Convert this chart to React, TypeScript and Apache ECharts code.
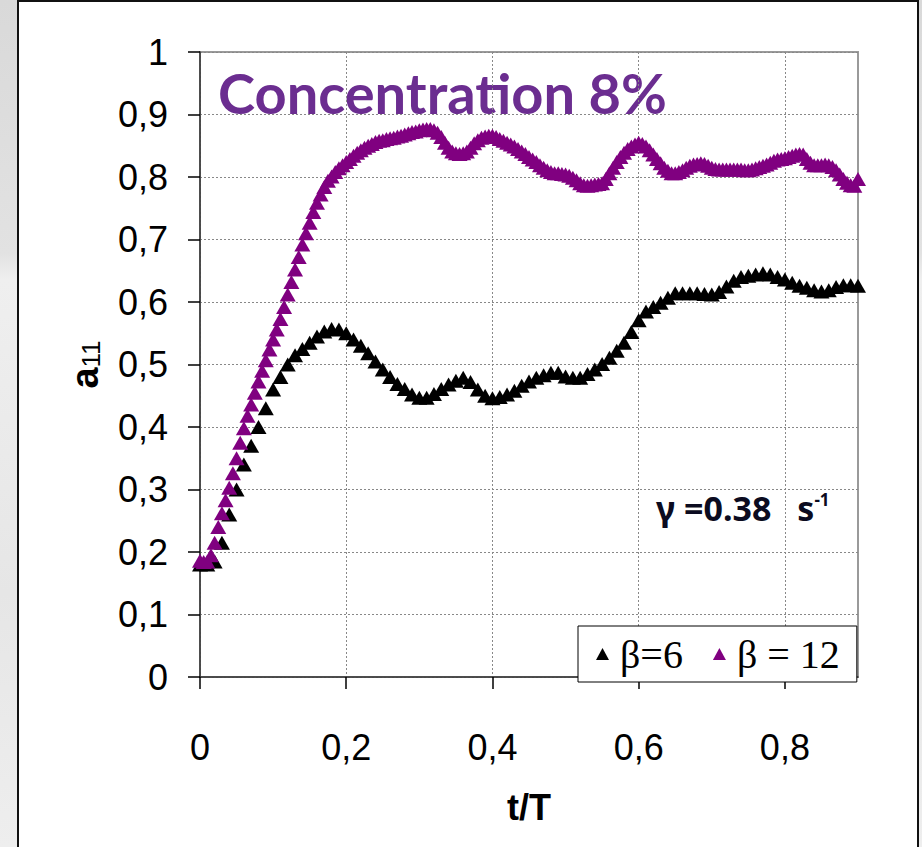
import React, { useEffect, useRef } from "react";
import * as echarts from "echarts";

// ---- data ----
const xTicks = [0, 0.2, 0.4, 0.6, 0.8];
const yTicks = [0, 0.1, 0.2, 0.3, 0.4, 0.5, 0.6, 0.7, 0.8, 0.9, 1];
const seriesNames = ["β=6", "β = 12"];

// β=6 sampled every 0.01 t/T
const beta6Step = 0.01;
const beta6 = [
  0.18, 0.18, 0.185, 0.215, 0.26, 0.3, 0.34, 0.37, 0.4, 0.43,
  0.46, 0.48, 0.5, 0.515, 0.525, 0.535, 0.545, 0.553, 0.557, 0.556,
  0.55, 0.54, 0.53, 0.518, 0.505, 0.492, 0.48, 0.469, 0.461, 0.452,
  0.447, 0.447, 0.453, 0.461, 0.468, 0.474, 0.479, 0.472, 0.46, 0.45,
  0.446, 0.448, 0.452, 0.458, 0.466, 0.473, 0.479, 0.483, 0.487, 0.487,
  0.481, 0.479, 0.479, 0.485, 0.492, 0.501, 0.511, 0.522, 0.535, 0.552,
  0.571, 0.585, 0.592, 0.599, 0.607, 0.614, 0.614, 0.614, 0.614, 0.613,
  0.612, 0.616, 0.625, 0.634, 0.64, 0.642, 0.644, 0.646, 0.644, 0.64,
  0.636, 0.631, 0.626, 0.623, 0.619, 0.617, 0.619, 0.624, 0.627, 0.627,
  0.626,
];

// β = 12 sampled every 0.005 t/T
const beta12Step = 0.005;
const beta12 = [
  0.186, 0.184, 0.185, 0.195, 0.215, 0.24, 0.262, 0.283, 0.303, 0.326,
  0.35, 0.375, 0.398, 0.418, 0.436, 0.455, 0.473, 0.49, 0.507, 0.524,
  0.54, 0.556, 0.573, 0.592, 0.612, 0.632, 0.652, 0.672, 0.692, 0.71,
  0.727, 0.744, 0.759, 0.772, 0.784, 0.794, 0.801, 0.808, 0.814, 0.819,
  0.824, 0.829, 0.834, 0.839, 0.843, 0.847, 0.85, 0.853, 0.856, 0.858,
  0.859, 0.861, 0.862, 0.863, 0.865, 0.866, 0.868, 0.87, 0.872, 0.873,
  0.875, 0.876, 0.877, 0.877, 0.875, 0.871, 0.864, 0.855, 0.847, 0.841,
  0.838, 0.837, 0.838, 0.841, 0.847, 0.854, 0.859, 0.863, 0.865, 0.866,
  0.866, 0.864, 0.861, 0.858, 0.855, 0.852, 0.849, 0.845, 0.841, 0.837,
  0.832, 0.828, 0.824, 0.819, 0.815, 0.811, 0.808, 0.806, 0.806, 0.805,
  0.804, 0.802, 0.799, 0.795, 0.79, 0.787, 0.786, 0.787, 0.788, 0.789,
  0.79, 0.797, 0.806, 0.815, 0.824, 0.832, 0.839, 0.845, 0.849, 0.852,
  0.855, 0.853, 0.849, 0.843, 0.836, 0.829, 0.822, 0.815, 0.81, 0.806,
  0.806, 0.808, 0.811, 0.815, 0.818, 0.82, 0.821, 0.822, 0.821, 0.818,
  0.815, 0.813, 0.812, 0.812, 0.812, 0.812, 0.812, 0.812, 0.812, 0.811,
  0.811, 0.812, 0.814, 0.816, 0.818, 0.82, 0.823, 0.826, 0.828, 0.829,
  0.83, 0.832, 0.834, 0.836, 0.837, 0.836, 0.829, 0.823, 0.819, 0.819,
  0.819, 0.82, 0.819, 0.816, 0.811, 0.804, 0.797, 0.791, 0.787, 0.786,
  0.797,
];

const titleText = "Concentration 8%";
const gammaText = "γ =0.38";
const gammaUnit = "s";
const gammaExp = "-1";
const xName = "t/T";
const yNameMain = "a";
const yNameSub = "11";

const fmt = (v: number) => {
  const r = Math.round(v * 10) / 10;
  if (r === 0) return "0";
  if (r === 1) return "1";
  return r.toFixed(1).replace(".", ",");
};

export default function App() {
  const ref = useRef<HTMLDivElement>(null);

  useEffect(() => {
    if (!ref.current) return;
    const chart = echarts.init(ref.current, null, { renderer: "svg" });
    const d6 = beta6.map((v, i) => [+(i * beta6Step).toFixed(3), v]);
    const d12 = beta12.map((v, i) => [+(i * beta12Step).toFixed(3), v]);

    chart.setOption({
      animation: false,
      grid: {
        left: 200,
        top: 52,
        width: 658,
        height: 625,
        show: true,
        borderColor: "#9a9a9a",
        borderWidth: 2,
        backgroundColor: "transparent",
      },
      xAxis: {
        type: "value",
        min: 0,
        max: 0.9,
        interval: 0.2,
        name: xName,
        nameLocation: "middle",
        nameGap: 112,
        nameTextStyle: {
          fontFamily: "Liberation Sans",
          fontWeight: "bold",
          fontSize: 36,
          color: "#000",
        },
        axisLine: { show: true, lineStyle: { color: "#333", width: 1.5 } },
        axisTick: {
          show: true,
          length: 12,
          customValues: xTicks,
          lineStyle: { color: "#000", width: 1.5 },
        },
        axisLabel: {
          customValues: xTicks,
          margin: 52,
          fontSize: 36,
          fontFamily: "Liberation Sans",
          color: "#000",
          formatter: (v: number) => fmt(v),
        },
        splitLine: {
          show: true,
          lineStyle: { color: "#888", type: [2, 2], width: 1 },
        },
      },
      yAxis: {
        type: "value",
        min: 0,
        max: 1,
        interval: 0.1,
        name: `{a|${yNameMain}}{s|${yNameSub}}`,
        nameLocation: "middle",
        nameGap: 96,
        nameTextStyle: {
          rich: {
            a: {
              fontFamily: "Liberation Sans",
              fontWeight: "bold",
              fontSize: 38,
              color: "#000",
            },
            s: {
              fontFamily: "Liberation Sans",
              fontSize: 26,
              color: "#000",
              verticalAlign: "bottom",
            },
          },
        },
        axisLine: { show: true, lineStyle: { color: "#333", width: 1.5 } },
        axisTick: {
          show: true,
          length: 12,
          customValues: yTicks,
          lineStyle: { color: "#000", width: 1.5 },
        },
        axisLabel: {
          margin: 32,
          fontSize: 36,
          fontFamily: "Liberation Sans",
          color: "#000",
          formatter: (v: number) => fmt(v),
        },
        splitLine: {
          show: true,
          lineStyle: { color: "#888", type: [2, 2], width: 1 },
        },
      },
      legend: {
        left: 578,
        top: 626,
        orient: "horizontal",
        backgroundColor: "#fff",
        borderColor: "#000",
        borderWidth: 1,
        padding: [8, 17, 8, 18],
        itemWidth: 13,
        itemHeight: 12,
        itemGap: 30,
        icon: "triangle",
        selectedMode: false,
        textStyle: {
          fontFamily: "Liberation Serif",
          fontSize: 40,
          color: "#000",
          padding: [0, 0, 0, 6],
        },
        data: seriesNames,
      },
      graphic: [
        {
          type: "text",
          x: 218,
          y: 92,
          style: {
            text: titleText,
            fill: "#6b2d90",
            font: "bold 56px Lato",
            align: "left",
            verticalAlign: "middle",
          },
        },
        {
          type: "text",
          x: 656,
          y: 508,
          style: {
            text: `{g|${gammaText}}{u|${gammaUnit}}{e|${gammaExp}}`,
            align: "left",
            verticalAlign: "middle",
            rich: {
              g: {
                fontFamily: "Noto Sans",
                fontWeight: "bold",
                fontSize: 34,
                fill: "#0b0b20",
              },
              u: {
                fontFamily: "Noto Sans",
                fontWeight: "bold",
                fontSize: 34,
                fill: "#0b0b20",
                padding: [0, 0, 0, 26],
              },
              e: {
                fontFamily: "Noto Sans",
                fontWeight: "bold",
                fontSize: 17,
                fill: "#0b0b20",
                verticalAlign: "top",
              },
            },
          },
        },
      ],
      series: [
        {
          name: seriesNames[0],
          type: "scatter",
          symbol: "triangle",
          symbolSize: [16, 14],
          itemStyle: { color: "#000000", opacity: 1 },
          data: d6,
          z: 3,
        },
        {
          name: seriesNames[1],
          type: "scatter",
          symbol: "triangle",
          symbolSize: [16, 14],
          itemStyle: { color: "#800080", opacity: 1 },
          data: d12,
          z: 4,
        },
      ],
    });
    return () => chart.dispose();
  }, []);

  return (
    <div
      style={{
        position: "absolute",
        left: 0,
        top: 0,
        width: 922,
        height: 847,
        overflow: "hidden",
        background:
          "linear-gradient(to bottom, #d9d9d9 0%, #e2e2e2 30%, #efefef 33%, #e6e6e6 70%, #eeeeee 100%)",
      }}
    >
      <div
        style={{
          position: "absolute",
          left: 17,
          top: 0,
          width: 898,
          height: 870,
          border: "2px solid #111",
          background: "#fff",
        }}
      />
      <div
        ref={ref}
        style={{ position: "absolute", left: 0, top: 0, width: 922, height: 847 }}
      />
    </div>
  );
}
